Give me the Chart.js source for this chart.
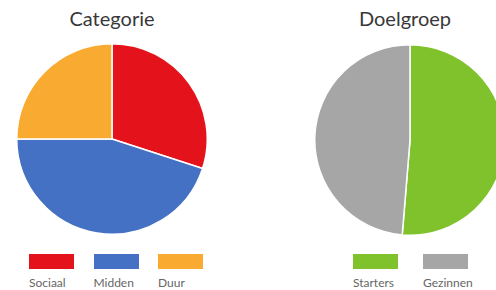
<!DOCTYPE html>
<html>
<head>
<meta charset="utf-8">
<script src="https://cdn.jsdelivr.net/npm/chart.js@4"></script>
<style>
  html, body { margin: 0; padding: 0; background: #fff; }
  body { width: 496px; height: 290px; position: relative; overflow: hidden; font-family: Lato, "Open Sans", sans-serif; }
  .title { position: absolute; top: 6px; width: 200px; text-align: center; font-size: 20px; color: #383838; }
  .pie { position: absolute; width: 192px; height: 192px; }
  .legend { position: absolute; top: 254px; }
  .item { position: absolute; top: 0; width: 45px; }
  .item .box { width: 45px; height: 15px; }
  .item .lbl { font-size: 12px; color: #666; margin-top: 6px; white-space: nowrap; }
</style>
</head>
<body>
<div class="title" style="left:12px">Categorie</div>
<div class="title" style="left:305px">Doelgroep</div>
<div class="pie" style="left:16px; top:43px"><canvas id="catChart"></canvas></div>
<div class="pie" style="left:314px; top:44px"><canvas id="doelChart"></canvas></div>
<div class="legend" id="catLegend" style="left:29px"></div>
<div class="legend" id="doelLegend" style="left:353px"></div>
<script>
const catLabels = ["Sociaal", "Midden", "Duur"];
const catValues = [30, 45, 25];
const catColors = ["#e3121b", "#4571c4", "#f9aa30"];

const doelLabels = ["Starters", "Gezinnen"];
const doelValues = [51.3, 48.7];
const doelColors = ["#80c22c", "#a6a6a6"];

const createPieChart = (chartId, labels, data, colors) => {
  const chartCanvas = document.getElementById(chartId);
  if (!chartCanvas) {
    console.error(`Element with ID '${chartId}' not found.`);
    return;
  }
  new Chart(chartCanvas.getContext("2d"), {
    type: "pie",
    data: {
      labels: labels,
      datasets: [
        {
          data: data,
          backgroundColor: colors,
          borderColor: "#ffffff",
          borderWidth: 1.5,
        },
      ],
    },
    options: {
      responsive: true,
      maintainAspectRatio: false,
      animation: false,
      layout: { padding: 0 },
      plugins: {
        legend: { display: false },
        tooltip: { enabled: false },
      },
    },
  });
};

const buildLegend = (legendId, labels, colors, step) => {
  const el = document.getElementById(legendId);
  labels.forEach((label, i) => {
    const item = document.createElement("div");
    item.className = "item";
    item.style.left = i * step + "px";
    item.innerHTML = `<div class="box" style="background:${colors[i]}"></div><div class="lbl">${label}</div>`;
    el.appendChild(item);
  });
};

createPieChart("catChart", catLabels, catValues, catColors);
createPieChart("doelChart", doelLabels, doelValues, doelColors);
buildLegend("catLegend", catLabels, catColors, 64.5);
buildLegend("doelLegend", doelLabels, doelColors, 70);
</script>
</body>
</html>
